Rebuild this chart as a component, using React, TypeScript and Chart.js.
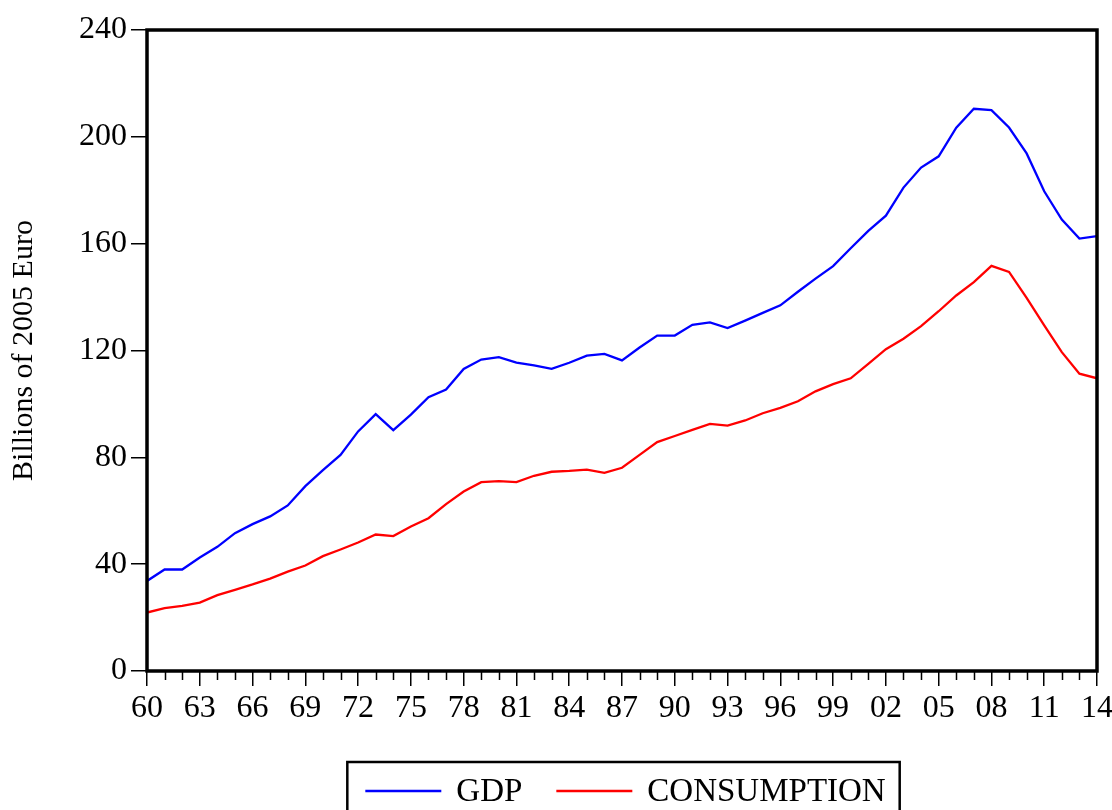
import React, { useEffect, useRef } from "react";
import { Chart, registerables } from "chart.js";

Chart.register(...registerables);

const years = [
  1960, 1961, 1962, 1963, 1964, 1965, 1966, 1967, 1968, 1969,
  1970, 1971, 1972, 1973, 1974, 1975, 1976, 1977, 1978, 1979,
  1980, 1981, 1982, 1983, 1984, 1985, 1986, 1987, 1988, 1989,
  1990, 1991, 1992, 1993, 1994, 1995, 1996, 1997, 1998, 1999,
  2000, 2001, 2002, 2003, 2004, 2005, 2006, 2007, 2008, 2009,
  2010, 2011, 2012, 2013, 2014,
];

const gdp = [
  33.7, 38.0, 38.0, 42.5, 46.5, 51.6, 55.0, 57.9, 62.0, 69.2,
  75.2, 80.9, 89.7, 96.2, 90.2, 96.0, 102.5, 105.4, 113.1, 116.6,
  117.5, 115.5, 114.4, 113.1, 115.4, 118.1, 118.7, 116.3, 121.1, 125.6,
  125.6, 129.6, 130.5, 128.4, 131.2, 134.1, 136.9, 142.0, 146.9, 151.6,
  158.3, 164.8, 170.5, 181.0, 188.5, 192.7, 203.4, 210.5, 210.0, 203.5,
  193.8, 179.6, 169.0, 161.9, 162.8,
];

const consumption = [
  21.9, 23.5, 24.4, 25.6, 28.4, 30.4, 32.4, 34.6, 37.2, 39.5,
  43.0, 45.5, 48.1, 51.1, 50.5, 54.1, 57.2, 62.5, 67.2, 70.7,
  71.1, 70.7, 73.1, 74.6, 74.9, 75.4, 74.2, 76.1, 80.9, 85.7,
  88.0, 90.3, 92.5, 91.9, 93.8, 96.5, 98.5, 101.0, 104.7, 107.4,
  109.6, 115.0, 120.5, 124.4, 129.1, 134.7, 140.6, 145.6, 151.7, 149.4,
  139.7, 129.4, 119.4, 111.3, 109.6,
];

const seriesLabels = ["GDP", "CONSUMPTION"];
const seriesColors = ["#0000ff", "#ff0000"];
const yTicks = [0, 40, 80, 120, 160, 200, 240];
const yTitle = "Billions of 2005 Euro";

const FONT = "'Liberation Serif', 'Times New Roman', serif";

const framePlugin = {
  id: "framePlugin",
  afterDraw(chart: any) {
    const { ctx, chartArea } = chart;
    const xs = chart.scales.x;
    ctx.save();
    // minor ticks every year
    ctx.strokeStyle = "#000";
    ctx.lineWidth = 1.5;
    ctx.beginPath();
    for (const yr of years) {
      if ((yr - years[0]) % 3 === 0) continue;
      const px = Math.round(xs.getPixelForValue(yr)) + 0.5;
      ctx.moveTo(px, chartArea.bottom);
      ctx.lineTo(px, chartArea.bottom + 9);
    }
    ctx.stroke();
    // frame
    ctx.lineWidth = 3.5;
    ctx.strokeRect(
      chartArea.left,
      chartArea.top,
      chartArea.right - chartArea.left,
      chartArea.bottom - chartArea.top
    );
    // legend box
    const datasets = chart.data.datasets;
    ctx.font = `33px ${FONT}`;
    const padL = 18, lineLen = 76, gapText = 15, gapItem = 34, padR = 14;
    let total = padL + padR;
    datasets.forEach((d: any, i: number) => {
      total += lineLen + gapText + ctx.measureText(d.label).width;
      if (i < datasets.length - 1) total += gapItem;
    });
    const cx = (chartArea.left + chartArea.right) / 2 + 1.5;
    const boxL = cx - total / 2;
    const boxT = 762;
    ctx.lineWidth = 2.5;
    ctx.strokeRect(boxL, boxT, total, 80);
    const ly = 791;
    let x = boxL + padL;
    ctx.textBaseline = "middle";
    ctx.textAlign = "left";
    datasets.forEach((d: any, i: number) => {
      ctx.strokeStyle = d.borderColor;
      ctx.lineWidth = 2.5;
      ctx.beginPath();
      ctx.moveTo(x, ly);
      ctx.lineTo(x + lineLen, ly);
      ctx.stroke();
      x += lineLen + gapText;
      ctx.fillStyle = "#000";
      ctx.fillText(d.label, x, ly + 1);
      x += ctx.measureText(d.label).width + gapItem;
    });
    ctx.restore();
  },
};

export default function App() {
  const canvasRef = useRef<HTMLCanvasElement | null>(null);

  useEffect(() => {
    if (!canvasRef.current) return;
    const chart = new Chart(canvasRef.current, {
      type: "line",
      data: {
        datasets: [
          {
            label: seriesLabels[0],
            data: years.map((y, i) => ({ x: y, y: gdp[i] })),
            borderColor: seriesColors[0],
            borderWidth: 2.3,
            pointRadius: 0,
            tension: 0,
            fill: false,
          },
          {
            label: seriesLabels[1],
            data: years.map((y, i) => ({ x: y, y: consumption[i] })),
            borderColor: seriesColors[1],
            borderWidth: 2.3,
            pointRadius: 0,
            tension: 0,
            fill: false,
          },
        ],
      },
      options: {
        animation: false,
        responsive: false,
        maintainAspectRatio: false,
        layout: { padding: { top: 30, right: 15, bottom: 79, left: 0 } },
        plugins: {
          legend: { display: false },
          tooltip: { enabled: false },
        },
        scales: {
          x: {
            type: "linear",
            min: years[0],
            max: years[years.length - 1],
            border: { display: false },
            grid: {
              drawOnChartArea: false,
              drawTicks: true,
              tickLength: 15,
              color: "#000",
              lineWidth: 1.5,
            },
            ticks: {
              stepSize: 3,
              autoSkip: false,
              maxRotation: 0,
              padding: 3,
              color: "#000",
              font: { family: FONT, size: 32 },
              callback: (v: any) => String(Number(v) % 100).padStart(2, "0"),
            },
            afterFit: (scale: any) => {
              scale.height = 60;
              scale.paddingLeft = 0;
              scale.paddingRight = 0;
            },
          },
          y: {
            min: yTicks[0],
            max: yTicks[yTicks.length - 1],
            border: { display: false },
            grid: {
              drawOnChartArea: false,
              drawTicks: true,
              tickLength: 16,
              color: "#000",
              lineWidth: 1.5,
            },
            afterBuildTicks: (scale: any) => {
              scale.ticks = yTicks.map((v) => ({ value: v }));
            },
            ticks: {
              padding: 4,
              color: "#000",
              font: { family: FONT, size: 32 },
            },
            title: {
              display: true,
              text: yTitle,
              color: "#000",
              font: { family: FONT, size: 30 },
              padding: { top: 6, bottom: 0 },
            },
            afterFit: (scale: any) => {
              scale.width = 147;
            },
          },
        },
      },
      plugins: [framePlugin],
    });
    return () => chart.destroy();
  }, []);

  return (
    <div style={{ position: "absolute", left: 0, top: 0, width: 1112, height: 810, background: "#fff" }}>
      <canvas ref={canvasRef} width={1112} height={810} style={{ display: "block" }} />
    </div>
  );
}
